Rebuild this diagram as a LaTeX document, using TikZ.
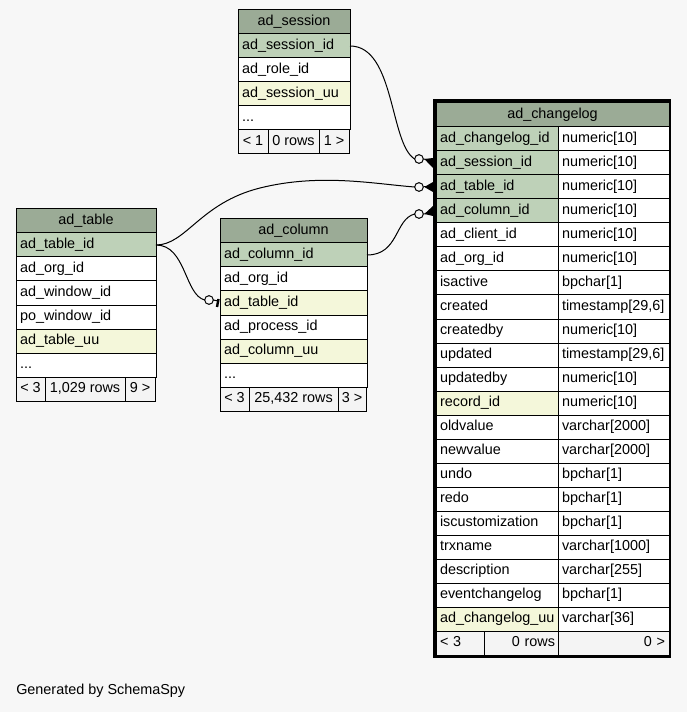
\documentclass[tikz,border=0pt]{standalone}
\usepackage{fontspec}
\setmainfont{Liberation Sans}
\usetikzlibrary{calc}
\definecolor{bgc}{HTML}{F7F7F7}
\definecolor{hdr}{HTML}{9BAB96}
\definecolor{pkc}{HTML}{BED1B8}
\definecolor{idx}{HTML}{F4F7DA}
\definecolor{ftc}{HTML}{F4F4F4}
\tikzset{
  cellbox/.style={draw=black, line width=0.75pt, anchor=north west, outer sep=0pt,
    inner xsep=3pt, inner ysep=0pt, minimum height=18pt, text height=8pt, text depth=2.3pt,
    font=\fontsize{10.8pt}{12pt}\selectfont},
  odot/.style={circle, draw=black, line width=0.75pt, fill=bgc, minimum size=6.5pt, inner sep=0pt, outer sep=0pt},
  link/.style={line width=0.75pt},
}
% \cell{name}{x}{y}{w}{fill}{align}{text}
\newcommand\cell[7]{%
  \pgfmathsetlengthmacro\cwid{(#4-7)*0.75pt}%
  \node[cellbox, fill=#5, minimum width=#4*0.75pt, text width=\cwid, align=#6] (#1) at (#2,#3) {#7};}
% \fcell{name}{x}{y}{w}{text}  centred footer cell
\newcommand\fcell[5]{%
  \node[cellbox, fill=ftc, inner xsep=1pt, minimum width=#4*0.75pt] (#1) at (#2,#3) {#5};}
\begin{document}
\begin{tikzpicture}[x=0.75pt,y=-0.75pt]
\fill[bgc] (0,0) rectangle (687,712);
\useasboundingbox (0,0) rectangle (687,712);

% ad_session
\cell{sesh}{238}{10}{111}{hdr}{center}{ad\_session}
\cell{ses1}{238}{34}{111}{pkc}{left}{ad\_session\_id}
\cell{ses2}{238}{58}{111}{white}{left}{ad\_role\_id}
\cell{ses3}{238}{82}{111}{idx}{left}{ad\_session\_uu}
\cell{ses4}{238}{106}{111}{white}{left}{...}
\fcell{sesfa}{238}{130}{30}{< 1}
\fcell{sesfb}{268}{130}{51}{0 rows}
\fcell{sesfc}{319}{130}{30}{1 >}

% ad_table
\cell{tabh}{16}{209}{139}{hdr}{center}{ad\_table}
\cell{tab1}{16}{233}{139}{pkc}{left}{ad\_table\_id}
\cell{tab2}{16}{257}{139}{white}{left}{ad\_org\_id}
\cell{tab3}{16}{281}{139}{white}{left}{ad\_window\_id}
\cell{tab4}{16}{305}{139}{white}{left}{po\_window\_id}
\cell{tab5}{16}{329}{139}{idx}{left}{ad\_table\_uu}
\cell{tab6}{16}{353}{139}{white}{left}{...}
\fcell{tabfa}{16}{377}{29}{< 3}
\fcell{tabfb}{45}{377}{80}{1,029 rows}
\fcell{tabfc}{125}{377}{30}{9 >}

% ad_column
\cell{colh}{220}{219}{146}{hdr}{center}{ad\_column}
\cell{col1}{220}{243}{146}{pkc}{left}{ad\_column\_id}
\cell{col2}{220}{267}{146}{white}{left}{ad\_org\_id}
\cell{col3}{220}{291}{146}{idx}{left}{ad\_table\_id}
\cell{col4}{220}{315}{146}{white}{left}{ad\_process\_id}
\cell{col5}{220}{339}{146}{idx}{left}{ad\_column\_uu}
\cell{col6}{220}{363}{146}{white}{left}{...}
\fcell{colfa}{220}{387}{29}{< 3}
\fcell{colfb}{249}{387}{89}{25,432 rows}
\fcell{colfc}{338}{387}{28}{3 >}

% ad_changelog
\draw[line width=2.4pt] (434.5,101) rectangle (669.5,656);
\cell{clh}{436}{103}{232}{hdr}{center}{ad\_changelog}
\foreach \i/\nm/\ty/\fl in {
  1/ad\_changelog\_id/numeric[10]/pkc,
  2/ad\_session\_id/numeric[10]/pkc,
  3/ad\_table\_id/numeric[10]/pkc,
  4/ad\_column\_id/numeric[10]/pkc,
  5/ad\_client\_id/numeric[10]/white,
  6/ad\_org\_id/numeric[10]/white,
  7/isactive/bpchar[1]/white,
  8/created/timestamp[29{,}6]/white,
  9/createdby/numeric[10]/white,
  10/updated/timestamp[29{,}6]/white,
  11/updatedby/numeric[10]/white,
  12/record\_id/numeric[10]/idx,
  13/oldvalue/varchar[2000]/white,
  14/newvalue/varchar[2000]/white,
  15/undo/bpchar[1]/white,
  16/redo/bpchar[1]/white,
  17/iscustomization/bpchar[1]/white,
  18/trxname/varchar[1000]/white,
  19/description/varchar[255]/white,
  20/eventchangelog/bpchar[1]/white,
  21/ad\_changelog\_uu/varchar[36]/idx}{
  \pgfmathsetmacro\yy{127+(\i-1)*24}
  \cell{cl\i}{436}{\yy}{122}{\fl}{left}{\nm}
  \cell{clt\i}{558}{\yy}{110}{white}{left}{\ty}
}
\cell{clfa}{436}{631}{48}{ftc}{left}{< 3}
\cell{clfb}{484}{631}{74}{ftc}{right}{0 rows}
\cell{clfc}{558}{631}{110}{ftc}{right}{0 >}

% connector end markers
\node[odot] (e1) at (419,159) {};
\node[odot] (e2) at (419,187) {};
\node[odot] (e3) at (419,214) {};
\node[odot] (e4) at (209,300) {};

% crow's feet
\foreach \e/\r in {e1/cl2, e2/cl3, e3/cl4}{
  \fill ($(\e.east)+(1,0)$) -- ($(\r.west)+(-3,-5)$) -- ($(\r.west)+(-3,5)$) -- cycle;
  \draw[link] ($(\e.east)+(1,0)$) -- ($(\r.west)+(-3,0)$);
}
% one-bar
\draw[line width=1.8pt] ($(col3.west)+(-3,4)$) -- ($(col3.west)+(-1.5,-4)$);
\draw[link] (e4.east) -- ($(col3.west)+(-2,-2)$);

% connectors
\draw[link] (ses1.east) .. controls +(45,0) and +(-25,-15) .. (e1.west);
\draw[link] (tab1.east) .. controls +(30,0) and +(-60,15) .. (260,188) .. controls +(60,-15) and +(-40,-3) .. (e2.west);
\draw[link] (tab1.east) .. controls +(30,0) and +(-20,-5) .. (e4.west);
\draw[link] (col1.east) .. controls +(32,0) and +(-20,5) .. (e3.west);

\node[anchor=west, inner sep=0pt, font=\fontsize{10.8pt}{12pt}\selectfont] (gen) at (16,691) {Generated by SchemaSpy};
\end{tikzpicture}
\end{document}
